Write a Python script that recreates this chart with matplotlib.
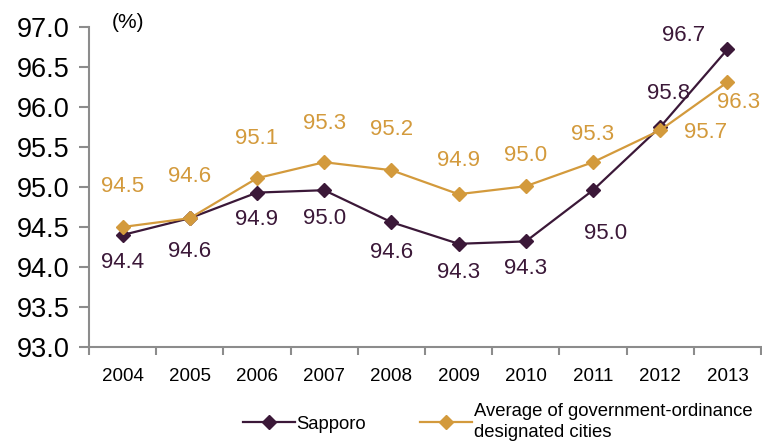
import numpy as np
import matplotlib.pyplot as plt

plt.rcParams['font.family'] = ['Liberation Sans', 'DejaVu Sans']

years = ["2004", "2005", "2006", "2007", "2008", "2009", "2010", "2011", "2012", "2013"]
sapporo = [94.40, 94.61, 94.93, 94.96, 94.56, 94.29, 94.32, 94.96, 95.75, 96.72]
average = [94.50, 94.61, 95.11, 95.31, 95.21, 94.91, 95.01, 95.31, 95.71, 96.31]

c_sap = "#3b1838"
c_avg = "#d39a3c"
c_axis = "#8c8c8c"

# label offsets in pixels (dx, dy), dy positive = down
off_sap = [(0, 28), (0, 33), (0, 27), (0, 28), (0, 30), (0, 29), (0, 27), (13, 43), (8, -34), (-44, -14)]
off_avg = [(0, -41), (0, -42), (0, -40), (0, -39), (0, -41), (0, -34), (0, -31), (0, -28), (45, 2), (11, 20)]

fig = plt.figure(figsize=(7.62, 4.44), dpi=100)
ax = fig.add_axes([89 / 762, 1 - 347 / 444, (761 - 89) / 762, 320 / 444])

x = np.arange(len(years))
l1, = ax.plot(x, sapporo, color=c_sap, lw=1.6, marker="D", ms=7.5, label="Sapporo")
l2, = ax.plot(x, average, color=c_avg, lw=1.6, marker="D", ms=7.5,
              label="Average of government-ordinance\ndesignated cities")

k = 0.72
for i in range(len(years)):
    dx, dy = off_sap[i]
    ax.annotate(f"{sapporo[i]:.1f}", (x[i], sapporo[i]), xytext=(dx * k, -dy * k),
                textcoords="offset points", ha="center", va="center",
                fontsize=16, color=c_sap)
    dx, dy = off_avg[i]
    ax.annotate(f"{average[i]:.1f}", (x[i], average[i]), xytext=(dx * k, -dy * k),
                textcoords="offset points", ha="center", va="center",
                fontsize=16, color=c_avg)

ax.set_xlim(-0.5, 9.5)
ax.set_ylim(93.0, 97.0)
ax.set_yticks(np.arange(93.0, 97.01, 0.5))
ax.set_yticklabels([f"{v:.1f}" for v in np.arange(93.0, 97.01, 0.5)], fontsize=19.5)
ax.set_xticks(x)
ax.set_xticklabels(years, fontsize=13.5)
ax.set_xticks(np.arange(-0.5, 9.6, 1.0), minor=True)
ax.tick_params(axis="x", which="major", length=0, pad=15)
ax.tick_params(axis="x", which="minor", length=6, color=c_axis, width=1.5)
ax.tick_params(axis="y", length=7, color=c_axis, width=1.5, pad=7)

for s in ["top", "right"]:
    ax.spines[s].set_visible(False)
for s in ["left", "bottom"]:
    ax.spines[s].set_color(c_axis)
    ax.spines[s].set_linewidth(1.5)

fig.text(112 / 762, 1 - 22 / 444, "(%)", fontsize=15, va="center", ha="left")

leg_kw = dict(frameon=False, fontsize=13.3, handlelength=2.8, handletextpad=0.1,
              borderpad=0, borderaxespad=0, loc="center left")
fig.legend([l1], ["Sapporo"], bbox_to_anchor=(243 / 762, 1 - 424 / 444), **leg_kw)
leg2 = fig.legend([l2], ["Average of government-ordinance\ndesignated cities"],
                  bbox_to_anchor=(420 / 762, 1 - 422 / 444), **leg_kw)
leg2.get_texts()[0].set_linespacing(1.3)

fig.savefig("out.png", dpi=100)
